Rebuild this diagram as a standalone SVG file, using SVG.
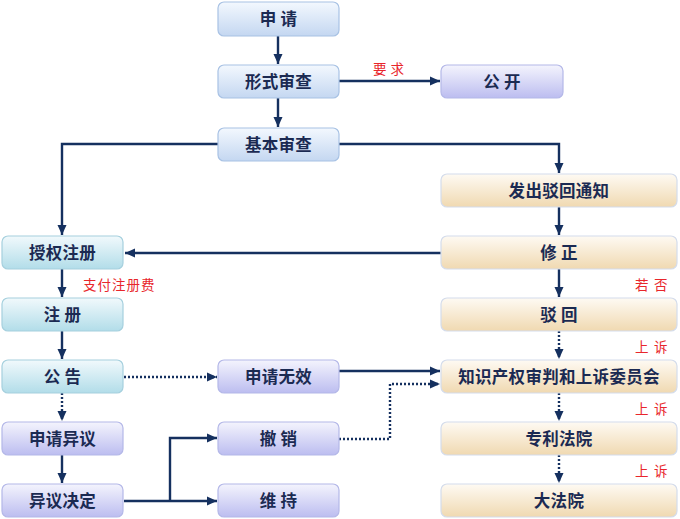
<svg xmlns="http://www.w3.org/2000/svg" width="680" height="519" viewBox="0 0 680 519">
<style>
.box{stroke-width:1.2;}
.blue{fill:url(#gBlue);stroke:#a8c2e4;}
.cyan{fill:url(#gCyan);stroke:#a6d0de;}
.lav{fill:url(#gLav);stroke:#b4b8e8;}
.cream{fill:url(#gCream);stroke:#d4dceb;}
.t{font-family:"Noto Sans CJK SC","Noto Sans CJK JP",sans-serif;font-weight:bold;font-size:16.5px;letter-spacing:0.3px;fill:#1b2a52;text-anchor:middle;}
.r{font-family:"Noto Sans CJK SC","Noto Sans CJK JP",sans-serif;font-size:13.5px;fill:#e8262b;}
.ln{fill:none;stroke:#15305f;stroke-width:2.4;}
.dt{fill:none;stroke:#15305f;stroke-width:2.4;stroke-dasharray:2 2;}
</style>
<defs>
<linearGradient id="gBlue" x1="0" y1="0" x2="0" y2="1"><stop offset="0" stop-color="#f3f8fe"/><stop offset="1" stop-color="#c4d7f1"/></linearGradient>
<linearGradient id="gCyan" x1="0" y1="0" x2="0" y2="1"><stop offset="0" stop-color="#f1f9fc"/><stop offset="1" stop-color="#b2dde9"/></linearGradient>
<linearGradient id="gLav" x1="0" y1="0" x2="0" y2="1"><stop offset="0" stop-color="#f4f4fd"/><stop offset="1" stop-color="#bcbdf0"/></linearGradient>
<linearGradient id="gCream" x1="0" y1="0" x2="0" y2="1"><stop offset="0" stop-color="#fefaf3"/><stop offset="1" stop-color="#f0d9b1"/></linearGradient>
<marker id="ar" markerUnits="userSpaceOnUse" markerWidth="12" markerHeight="12" viewBox="0 0 12 12" refX="11" refY="6" orient="auto">
<path d="M1,1.5 L11,6 L1,10.5 Z" fill="#15305f"/>
</marker>
</defs>
<rect width="680" height="519" fill="#ffffff"/>

<g id="connectors">
<path class="ln" d="M278,36 V64" marker-end="url(#ar)"/>
<path class="ln" d="M278,98 V127" marker-end="url(#ar)"/>
<path class="ln" d="M339,81 H440" marker-end="url(#ar)"/>
<path class="ln" d="M218,144 H62 V235" marker-end="url(#ar)"/>
<path class="ln" d="M339,144 H559 V173" marker-end="url(#ar)"/>
<path class="ln" d="M559,207 V235" marker-end="url(#ar)"/>
<path class="ln" d="M441,253 H125" marker-end="url(#ar)"/>
<path class="ln" d="M559,269 V297" marker-end="url(#ar)"/>
<path class="dt" d="M559,331 V359" marker-end="url(#ar)"/>
<path class="dt" d="M559,393 V421" marker-end="url(#ar)"/>
<path class="dt" d="M559,455 V483" marker-end="url(#ar)"/>
<path class="ln" d="M62,269 V297" marker-end="url(#ar)"/>
<path class="ln" d="M62,331 V359" marker-end="url(#ar)"/>
<path class="dt" d="M124,377 H217" marker-end="url(#ar)"/>
<path class="dt" d="M62,393 V421" marker-end="url(#ar)"/>
<path class="ln" d="M62,455 V483" marker-end="url(#ar)"/>
<path class="ln" d="M124,501 H217" marker-end="url(#ar)"/>
<path class="ln" d="M170,501 V438 H217" marker-end="url(#ar)"/>
<path class="ln" d="M339,371 H440" marker-end="url(#ar)"/>
<path class="dt" d="M339,439 H390 V384 H440" marker-end="url(#ar)"/>
<text class="r" x="373" y="74" letter-spacing="4">要求</text>
<text class="r" x="83" y="290" letter-spacing="1">支付注册费</text>
<text class="r" x="635" y="290" letter-spacing="5.5">若否</text>
<text class="r" x="635" y="352" letter-spacing="5.5">上诉</text>
<text class="r" x="635" y="414" letter-spacing="5.5">上诉</text>
<text class="r" x="635" y="476" letter-spacing="5.5">上诉</text>
</g>

<g id="n_shenqing"><rect class="box blue" x="218" y="2" width="121" height="34" rx="6"/><text class="t" x="278.5" y="25">申 请</text></g>
<g id="n_xingshi"><rect class="box blue" x="218" y="65" width="121" height="33" rx="6"/><text class="t" x="278.5" y="87.5">形式审查</text></g>
<g id="n_jiben"><rect class="box blue" x="218" y="128" width="121" height="33" rx="6"/><text class="t" x="278.5" y="150.5">基本审查</text></g>
<g id="n_gongkai"><rect class="box lav" x="441" y="65" width="122" height="33" rx="6"/><text class="t" x="502" y="87.5">公 开</text></g>

<g id="n_bohuitongzhi"><rect class="box cream" x="441" y="174" width="236" height="33" rx="6"/><text class="t" x="559" y="196.5">发出驳回通知</text></g>
<g id="n_xiuzheng"><rect class="box cream" x="441" y="236" width="236" height="33" rx="6"/><text class="t" x="559" y="258.5">修 正</text></g>
<g id="n_bohui"><rect class="box cream" x="441" y="298" width="236" height="33" rx="6"/><text class="t" x="559" y="320.5">驳 回</text></g>
<g id="n_ipab"><rect class="box cream" x="441" y="360" width="236" height="33" rx="6"/><text class="t" x="559" y="382.5">知识产权审判和上诉委员会</text></g>
<g id="n_zhuanli"><rect class="box cream" x="441" y="422" width="236" height="33" rx="6"/><text class="t" x="559" y="444.5">专利法院</text></g>
<g id="n_dafayuan"><rect class="box cream" x="441" y="484" width="236" height="33" rx="6"/><text class="t" x="559" y="506.5">大法院</text></g>

<g id="n_shouquan"><rect class="box cyan" x="2" y="236" width="121" height="33" rx="6"/><text class="t" x="62.5" y="258.5">授权注册</text></g>
<g id="n_zhuce"><rect class="box cyan" x="2" y="298" width="121" height="33" rx="6"/><text class="t" x="62.5" y="320.5">注 册</text></g>
<g id="n_gonggao"><rect class="box cyan" x="2" y="360" width="121" height="33" rx="6"/><text class="t" x="62.5" y="382.5">公 告</text></g>
<g id="n_yiyi"><rect class="box lav" x="2" y="422" width="121" height="33" rx="6"/><text class="t" x="62.5" y="444.5">申请异议</text></g>
<g id="n_jueding"><rect class="box lav" x="2" y="484" width="121" height="33" rx="6"/><text class="t" x="62.5" y="506.5">异议决定</text></g>

<g id="n_wuxiao"><rect class="box lav" x="218" y="360" width="121" height="33" rx="6"/><text class="t" x="278.5" y="382.5">申请无效</text></g>
<g id="n_chexiao"><rect class="box lav" x="218" y="422" width="121" height="33" rx="6"/><text class="t" x="278.5" y="444.5">撤 销</text></g>
<g id="n_weichi"><rect class="box lav" x="218" y="484" width="121" height="33" rx="6"/><text class="t" x="278.5" y="506.5">维 持</text></g>
</svg>
